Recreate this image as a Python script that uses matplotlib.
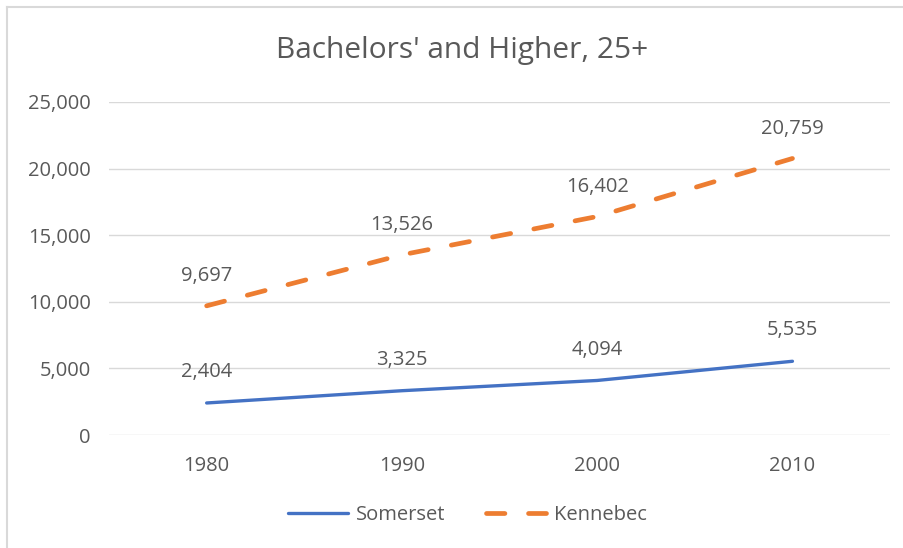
import matplotlib
matplotlib.use('Agg')
import matplotlib.pyplot as plt
from matplotlib.lines import Line2D
from matplotlib.ticker import FuncFormatter, MultipleLocator

years = ['1980', '1990', '2000', '2010']
somerset = [2404, 3325, 4094, 5535]
kennebec = [9697, 13526, 16402, 20759]

BLUE = '#4472C4'
ORANGE = '#ED7D31'
TEXT = '#595959'
GRID = '#D9D9D9'

plt.rcParams['font.family'] = ['Open Sans', 'DejaVu Sans']

fig = plt.figure(figsize=(9.04, 5.48), dpi=100)
ax = fig.add_axes([0.1206, 0.2062, 0.864, 0.6077])

x = list(range(len(years)))
ax.plot(x, somerset, color=BLUE, lw=2.4, solid_capstyle='round', label='Somerset')
ax.plot(x, kennebec, color=ORANGE, lw=3.4, dashes=(3.9, 5.0), dash_capstyle='round',
        label='Kennebec')

for xi, v in zip(x, somerset):
    ax.annotate(f'{v:,}', (xi, v), xytext=(0, 15), textcoords='offset points',
                ha='center', va='bottom', fontsize=14.5, color=TEXT)
for xi, v in zip(x, kennebec):
    ax.annotate(f'{v:,}', (xi, v), xytext=(0, 14), textcoords='offset points',
                ha='center', va='bottom', fontsize=14.5, color=TEXT)

ax.set_xlim(-0.5, 3.5)
ax.set_ylim(0, 25000)
ax.set_xticks(x)
ax.set_xticklabels(years)
ax.yaxis.set_major_locator(MultipleLocator(5000))
ax.yaxis.set_major_formatter(FuncFormatter(lambda v, p: f'{int(v):,}'))
ax.tick_params(axis='both', length=0, labelsize=14.5, colors=TEXT)
ax.tick_params(axis='x', pad=15)
ax.tick_params(axis='y', pad=13)
ax.grid(axis='y', color=GRID, lw=1)
ax.set_axisbelow(True)
for s in ax.spines.values():
    s.set_visible(False)

fig.text(0.511, 0.908, "Bachelors' and Higher, 25+", ha='center', va='center',
         fontsize=21.5, color=TEXT)

fig.legend(loc='center', bbox_to_anchor=(0.517, 0.06), ncol=2, frameon=False,
           fontsize=14.5, labelcolor=TEXT, handlelength=3.0, columnspacing=2.0,
           handletextpad=0.4)

# chart frame: only the left and top edges show
fx, fy = 7 / 904, 1 - 7 / 548
fig.add_artist(Line2D([fx, fx], [0, fy], transform=fig.transFigure,
                      color='#D9D9D9', lw=1.5))
fig.add_artist(Line2D([fx, 1], [fy, fy], transform=fig.transFigure,
                      color='#D9D9D9', lw=1.5))

fig.savefig('out.png', dpi=100)
